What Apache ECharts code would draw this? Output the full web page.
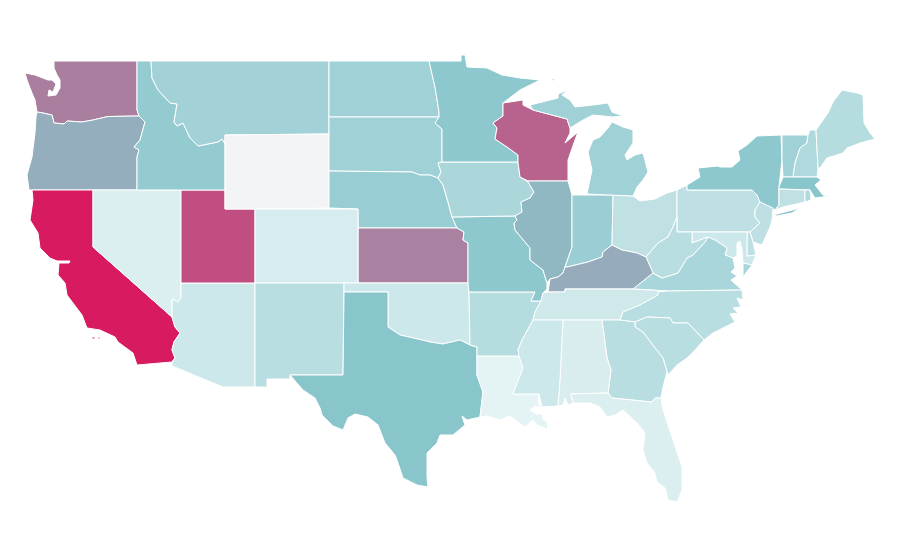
<!DOCTYPE html>
<html>
<head>
<meta charset="utf-8">
<style>html,body{margin:0;padding:0;background:#fff}#main{width:900px;height:560px}</style>
<script src="https://cdn.jsdelivr.net/npm/echarts@6/dist/echarts.min.js"></script>
</head>
<body>
<div id="main"></div>
<script>
var stateNames = ['CA','UT','WI','KS','WA','KY','OR','IL','TX','MN','NY','MO','MA','ID','NE','IN','ND','SD','MT','MI','VT','IA','AR','ME','VA','NM','NC','GA','SC','WV','PA','OH','CT','NJ','NH','RI','MD','DE','TN','OK','AZ','MS','NV','FL','AL','CO','LA','WY'];
var stateValues = [100,85,79,70,71,58,57,54,50,48,48,48,50,45,42,41,38,38,37,38,38,32,27,27,33,25,25,25,25,25,22,21,21,22,30,30,14,22,13,14,14,14,7,7,8,9.5,2,null];

// traced outlines of each state, one string per ring, in the 900x560 plane
var outlines = {
	WA: ['54,61 137,61 137,110 139,116 108,116.5 93,120 82,122 67,121 64,124 54,123 52,115 43,113 37,112 35,100 32,93 27,80 25,73 35,75 48,80 52,80 56,84 53,92 49,90 48,96 56,95 60,88 60,80 57,75 54,68'],
	OR: ['37,112 43,113 52,115 54,123 64,124 67,121 82,122 93,120 108,116.5 139,116 145,122 140,140 134,147 139,150 137,157 137,190 29,190 27,175 32,157 35,133 36,117'],
	CA: ['32,190 93,190 93,247 172,317 175,327 180,333 174,342 172,350 175,358 172,362 137,365 133,353 118,342 115,337 100,330 87,328 82,315 67,295 65,283 58,275 59,263 69,263 70,261 57,261 50,258 40,248 38,233 30,220 33,200', '92,337 95,337 95,339 92,339', '98,337 100,337 100,339 98,339'],
	NV: ['93,190 181,190 181,298 178,302 172,299 172,317 93,247'],
	AZ: ['181,283 255,283 255,387 223,387 172,366 172,362 175,358 172,350 174,342 180,333 175,327 172,317 172,299 178,302 181,298'],
	UT: ['181,190 225,190 225,209 255,209 255,283 181,283'],
	ID: ['137,61 151,61 152,78 158,90 170,103 177,104 174,122 177,126 183,123 190,138 198,146 218,142 222,139 225,144 225,190 137,190 137,157 139,150 134,147 140,140 145,122 139,116 137,110'],
	MT: ['151,61 329,61 329,134 225,135 225,144 222,139 218,142 198,146 190,138 183,123 177,126 174,122 177,104 170,103 158,90 152,78'],
	WY: ['225,135 329,134 329,208 255,209 225,209'],
	ND: ['329,61 429,61 435,87 439,112 439,117 329,117'],
	SD: ['329,117 439,117 435,123 442,129 442,162 438,163 441,172 438,178 430,175 420,175 412,172 329,171'],
	NE: ['329,171 412,172 420,175 430,175 438,178 443,185 448,202 452,217 457,228 358,228 358,209 329,208'],
	KS: ['358,228 457,228 464,232 463,240 468,243 468,283 358,283'],
	CO: ['255,209 358,209 358,283 255,283'],
	NM: ['255,283 344,283 344,292 343,375 290,375 290,379 267,379 267,387 255,387'],
	OK: ['344,283 468,283 469,292 470,345 460,340 443,344 430,342 422,340 400,335 388,327 388,292 344,292'],
	TX: ['344,292 388,292 388,327 400,335 422,340 430,342 443,344 460,340 470,345 477,347 477,375 483,392 480,417 467,420 462,416 465,425 453,435 440,435 437,443 427,453 427,460 427,477 428,487 417,485 403,478 397,460 395,455 385,443 378,425 368,417 355,414 348,418 343,430 333,426 322,415 320,408 315,398 303,390 290,375 343,375'],
	LA: ['477,356 519,356 523,368 513,394 539,394 538,403 542,408 535,406 530,410 536,414 543,414 542,418 547,422 548,429 537,425 533,420 525,427 515,420 510,416 500,420 487,416 480,417 483,392 477,375'],
	AR: ['469,292 535,292 531,301 541,301 535,312 533,320 522,340 518,350 519,356 477,356 477,347 470,345'],
	MO: ['452,217 513,216 515,216 517,220 514,223 515,230 525,242 530,248 530,260 543,270 547,283 547,289 543,293 541,301 531,301 535,292 469,292 468,283 468,243 463,240 464,232 457,228'],
	IA: ['442,162 518,162 520,177 528,182 534,192 530,198 521,202 522,212 515,216 513,216 452,217 448,202 443,185 438,178 441,172 438,163'],
	MN: ['429,61 461,61 461,55 465,55 467,67 487,68 502,75 520,78 540,80 520,90 503,103 503,116 493,123 497,128 495,139 507,147 518,155 518,162 442,162 442,129 435,123 439,117 439,112 435,87'],
	WI: ['503,103 523,100 523,105 533,110 567,119 570,128 570,133 565,143 578,132 575,140 568,160 568,181 528,181 520,177 518,162 518,155 507,147 495,139 497,128 493,123 503,116'],
	IL: ['528,181 568,181 572,195 572,247 565,267 563,273 558,277 550,279 547,283 543,270 530,260 530,248 525,242 515,230 514,223 517,220 515,216 522,212 521,202 530,198 534,192 528,182'],
	IN: ['572,195 613,195 612,245 603,252 602,257 588,262 567,267 565,267 572,247'],
	OH: ['613,195 633,196 640,201 655,199 667,193 677,190 677,217 673,227 668,237 658,243 652,250 646,257 637,253 622,250 612,245'],
	MI: ['533,110 530,105 558,98 558,94 568,90 562,95 570,100 575,107 593,105 608,103 612,112 623,116 613,117 593,115 583,120 575,125 570,128 567,119', '587,194 633,196 637,187 643,180 648,172 643,153 635,155 627,160 625,155 633,143 633,130 623,127 612,122 608,128 600,137 593,140 588,152 592,170', '550,80 556,78 553,81'],
	PA: ['677,190 687,185 687,190 752,190 757,195 760,202 755,210 755,217 760,223 750,232 747,232 692,232 677,232'],
	NY: ['687,185 700,177 698,168 718,166 720,167 732,167 740,160 738,151 747,145 757,136 781,135 782,160 779,187 779,205 775,210 760,202 757,195 752,190 687,190', '773,215 800,208 792,213 777,216'],
	VT: ['782,135 808,135 807,143 800,148 795,163 793,177 783,177 782,160'],
	NH: ['810,130 816,130 818,168 817,177 793,177 795,163 800,148 807,143 808,135'],
	ME: ['816,130 828,113 833,102 842,90 857,93 863,95 864,123 870,133 875,139 860,143 847,148 843,153 827,158 820,168 818,168'],
	MA: ['783,177 817,177 818,176 821,180 815,185 823,195 830,196 815,198 810,190 779,189 779,187'],
	CT: ['779,189 805,190 805,202 783,207 775,210 779,205'],
	RI: ['805,190 810,190 811,200 805,202'],
	NJ: ['760,202 773,208 772,220 770,227 762,245 753,242 750,232 760,223 755,217 755,210'],
	DE: ['747,232 750,232 753,242 756,255 747,256'],
	MD: ['692,232 747,232 747,256 756,255 752,265 743,263 742,250 740,241 737,243 737,256 733,258 725,255 727,248 715,240 708,237 700,240 692,243'],
	VA: ['633,289 653,273 662,278 678,273 687,258 693,255 705,242 708,237 715,240 727,248 725,255 733,258 735,268 731,272 737,276 731,280 742,290 667,291', '752,265 743,263 743,277'],
	WV: ['677,217 677,232 692,232 692,243 700,240 708,237 705,242 693,255 687,258 678,273 662,278 653,273 646,257 652,250 658,243 668,237 673,227'],
	KY: ['612,245 622,250 637,253 646,257 653,273 633,289 602,289 565,289 565,292 548,292 550,279 558,277 563,273 565,267 567,267 588,262 602,257 603,252'],
	TN: ['548,292 565,292 565,289 602,289 633,289 667,291 658,292 658,295 640,305 623,312 620,320 563,320 533,320 535,312 541,301 543,293'],
	NC: ['620,320 623,312 640,305 658,295 658,292 667,291 742,290 743,300 737,298 741,307 733,308 738,313 730,314 735,322 713,333 704,340 688,323 673,323 670,318 647,317 635,322'],
	SC: ['635,322 647,317 670,318 673,323 688,323 704,340 695,350 687,358 677,365 668,375 667,372 663,358 655,348 643,332 635,327'],
	GA: ['602,320 620,320 635,322 635,327 643,332 655,348 663,358 667,372 663,387 661,398 655,398 652,402 612,398 608,393 611,370 607,358'],
	AL: ['563,320 602,320 607,358 611,370 608,393 571,394 573,403 568,405 565,398 563,405 558,406 560,380'],
	MS: ['533,320 563,320 560,380 558,406 542,407 539,394 513,394 523,368 519,356 518,350 522,340'],
	FL: ['571,394 608,393 612,398 652,402 655,398 661,398 663,410 672,437 682,467 682,490 677,502 668,500 665,488 657,482 655,473 647,463 643,450 645,433 637,423 623,410 615,415 607,417 600,407 590,403 573,403']
};

var features = [];
for (var key in outlines) {
	features.push({
		type: 'Feature',
		properties: { name: key },
		geometry: {
			type: 'MultiPolygon',
			coordinates: outlines[key].map(function(ring) {
				return [ring.split(' ').map(function(p) {
					var xy = p.split(',');
					return [+xy[0], -xy[1]];
				})];
			})
		}
	});
}
echarts.registerMap('usa', { type: 'FeatureCollection', features: features });

var chart = echarts.init(document.getElementById('main'));
chart.setOption({
	backgroundColor: '#fff',
	animation: false,
	visualMap: {
		show: false,
		min: 0,
		max: 100,
		inRange: { color: ['#e8f5f6', '#89c6cc', '#d81b60'] }
	},
	series: [{
		type: 'map',
		map: 'usa',
		silent: true,
		aspectScale: 1,
		boundingCoords: [[0, 0], [900, -560]],
		layoutCenter: ['50%', '50%'],
		layoutSize: 900,
		label: { show: false },
		// no value for WY, it keeps this colour
		itemStyle: { areaColor: '#f3f4f6', borderColor: '#fff', borderWidth: 1 },
		data: stateNames.map(function(name, i) {
			return { name: name, value: stateValues[i] };
		})
	}]
});
</script>
</body>
</html>
